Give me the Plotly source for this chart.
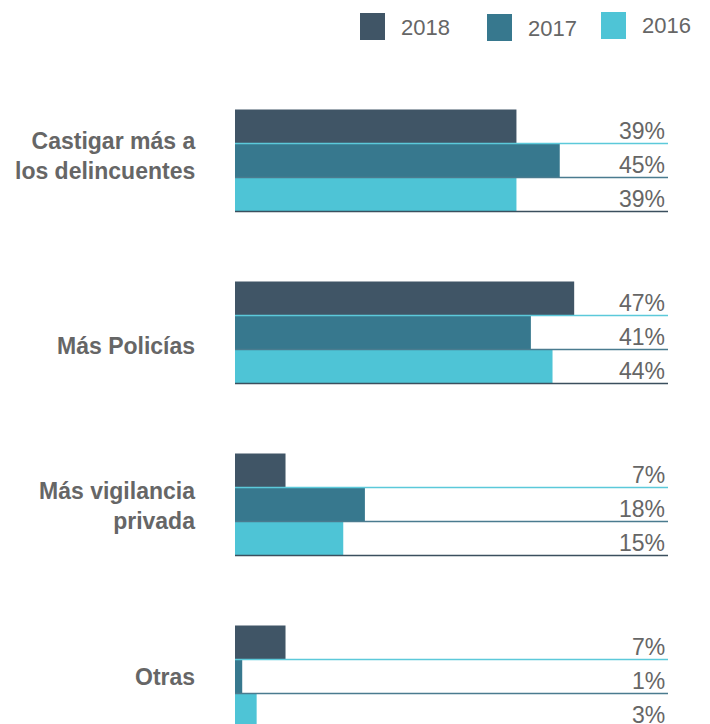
import plotly.graph_objects as go

# Survey answers: measures preferred against crime, share of respondents by year
categories = ["Castigar más a<br>los delincuentes", "Más Policías", "Más vigilancia<br>privada", "Otras"]
years = ["2018", "2017", "2016"]
values_2018 = [39, 47, 7, 7]
values_2017 = [45, 41, 18, 1]
values_2016 = [39, 44, 15, 3]

series = [values_2018, values_2017, values_2016]
bar_colors = ["#405566", "#37788E", "#4EC4D6"]
# rule drawn under each bar row (light under the top bar, dark under the bottom one)
rule_colors = ["#5CC9DA", "#4A7B8F", "#3B4F5E"]
text_color = "#666666"
font_family = "Liberation Sans, Arial, Helvetica, sans-serif"

# vertical nudge (px) of each category caption relative to its group centre
caption_shift = [5, -13, -1, 0]

W, H = 710, 724
ML, MR, MT, MB = 235, 42, 0, 0
plot_w = W - ML - MR
plot_h = H - MT - MB

band_px = 172.0          # vertical space per category
first_center_px = 160.5  # centre of the first category
bar_px = 34.0
bw = bar_px / band_px    # bar thickness in axis units

y_top = (0 - first_center_px) / band_px
y_bottom = (plot_h - first_center_px) / band_px


def px_to_paper_x(p):
    return (p - ML) / plot_w


def px_to_paper_y(p):
    return 1 - (p - MT) / plot_h


fig = go.Figure()
annotations = []
shapes = []

for k, (year, vals, color) in enumerate(zip(years, series, bar_colors)):
    ys = [i + (k - 1) * bw for i in range(len(categories))]
    fig.add_trace(go.Bar(
        x=vals, y=ys, orientation="h", width=bw,
        marker=dict(color=color, line=dict(width=0)),
        name=year, showlegend=False, hoverinfo="skip",
    ))
    for yc, v in zip(ys, vals):
        bottom = yc + bw / 2
        shapes.append(dict(
            type="line", xref="paper", yref="y",
            x0=0, x1=1, y0=bottom, y1=bottom,
            line=dict(color=rule_colors[k], width=1.5),
        ))
        annotations.append(dict(
            x=1, xref="paper", y=bottom - 13 / band_px, yref="y",
            text=f"{v}%", showarrow=False, xanchor="right", yanchor="middle",
            xshift=-1,
            font=dict(family=font_family, size=23, color=text_color),
        ))

# category captions, right-aligned left of the bars
for i, (cat, dy) in enumerate(zip(categories, caption_shift)):
    annotations.append(dict(
        x=0, xref="paper", y=i, yref="y",
        text=cat, showarrow=False, xanchor="right", yanchor="middle",
        align="right", xshift=-38, yshift=dy,
        font=dict(family=font_family, size=23, color=text_color, weight="bold"),
    ))

# legend: colour squares with year labels across the top
legend_items = [(360, 13), (487, 14), (601, 12)]
for (lx, ly), year, color in zip(legend_items, years, bar_colors):
    shapes.append(dict(
        type="rect", xref="paper", yref="paper",
        x0=px_to_paper_x(lx), x1=px_to_paper_x(lx + 25),
        y0=px_to_paper_y(ly + 27), y1=px_to_paper_y(ly),
        fillcolor=color, line=dict(width=0),
    ))
    annotations.append(dict(
        x=px_to_paper_x(lx + 39), xref="paper",
        y=px_to_paper_y(ly + 14), yref="paper",
        text=year, showarrow=False, xanchor="left", yanchor="middle",
        font=dict(family=font_family, size=22, color=text_color),
    ))

fig.update_layout(
    width=W, height=H,
    margin=dict(l=ML, r=MR, t=MT, b=MB, pad=0),
    paper_bgcolor="white", plot_bgcolor="white",
    barmode="overlay",
    showlegend=False,
    shapes=shapes,
    annotations=annotations,
    xaxis=dict(range=[0, 60], visible=False, fixedrange=True),
    yaxis=dict(
        range=[y_bottom, y_top],
        showticklabels=False,
        showgrid=False, zeroline=False, showline=False, ticks="",
        fixedrange=True,
    ),
)

fig.write_html("out.html", config={"displayModeBar": False})
